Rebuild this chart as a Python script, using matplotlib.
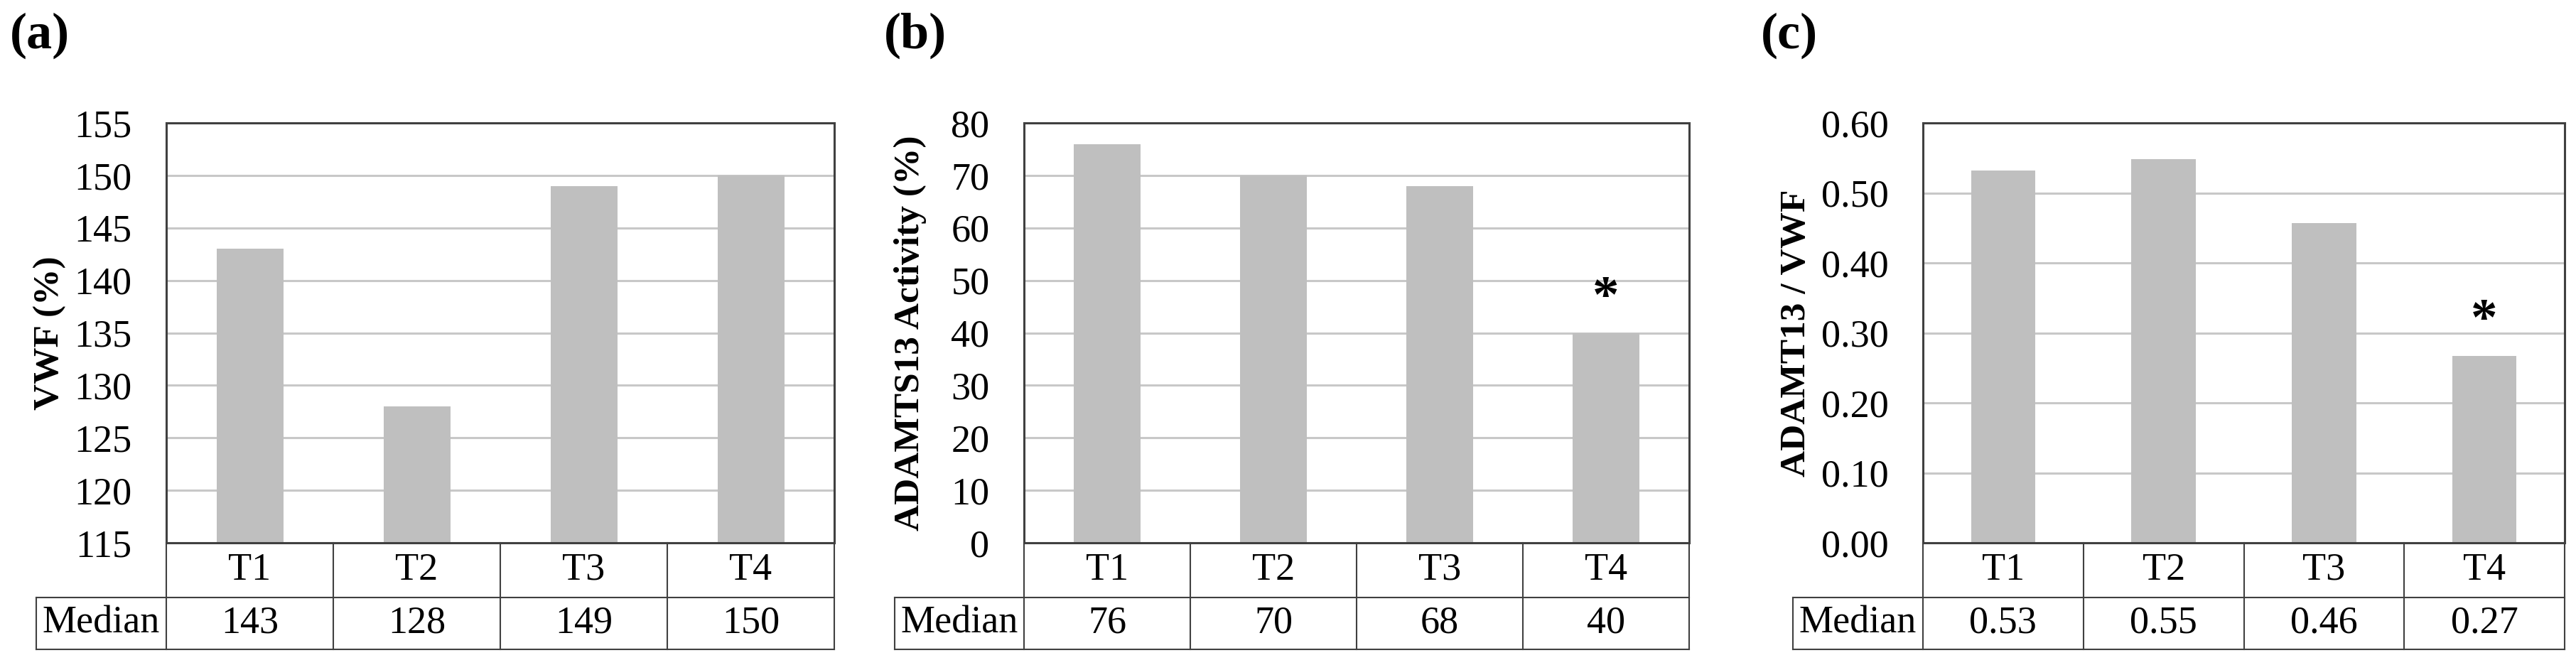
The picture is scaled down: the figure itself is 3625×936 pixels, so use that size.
# Three panels: VWF, ADAMTS13 activity and their ratio at T1-T4, each with a median table below.

import matplotlib
matplotlib.use('Agg')
import matplotlib.pyplot as plt
import numpy as np

plt.rcParams['font.family'] = ['Liberation Serif', 'DejaVu Serif']

times = ['T1', 'T2', 'T3', 'T4']

vwf = [143, 128, 149, 150]
vwf_median = ['143', '128', '149', '150']

adamts13 = [76, 70, 68, 40]
adamts13_median = ['76', '70', '68', '40']

ratio = [0.532, 0.548, 0.457, 0.267]
ratio_median = ['0.53', '0.55', '0.46', '0.27']

# which bar gets a significance star
star_a = []
star_b = ['T4']
star_c = ['T4']

fig = plt.figure(figsize=(36.25, 9.36), dpi=100)

W, H = 3625.0, 936.0
top, bottom = 173.0, 764.0
row1, row2 = 841.0, 914.0

line_col = '#404040'
grid_col = '#c8c8c8'
bar_col = '#bfbfbf'


def panel(x0, x1, med_x, ylab_x, letter, letter_x, vals, meds, stars,
          ylim, yticks, fmt, ylabel):
    ax = fig.add_axes([x0 / W, 1 - bottom / H, (x1 - x0) / W, (bottom - top) / H])
    ax_h = bottom - top
    x = np.arange(len(times))
    ax.bar(x, vals, width=0.4, color=bar_col, zorder=2)
    ax.set_xlim(-0.5, len(times) - 0.5)
    ax.set_ylim(*ylim)
    ax.set_yticks(yticks)
    ax.set_yticklabels([fmt.format(v) for v in yticks])
    ax.set_xticks([])
    ax.tick_params(axis='y', length=0, pad=35, labelsize=39)
    ax.yaxis.grid(True, color=grid_col, linewidth=2.2, zorder=0)
    ax.set_axisbelow(True)
    for s in ax.spines.values():
        s.set_color(line_col)
        s.set_linewidth(2.2)

    ax.set_ylabel(ylabel, fontsize=37, fontweight='bold', va='center')
    ax.yaxis.set_label_coords((ylab_x - x0) / (x1 - x0), 0.5)

    # significance stars
    for t in stars:
        i = times.index(t)
        ax.annotate('*', (x[i], vals[i]), xytext=(0, 10), textcoords='offset points',
                    ha='center', va='bottom', fontsize=54, fontweight='bold')

    # median table under the axes
    y1 = -(row1 - bottom) / ax_h
    y2 = -(row2 - bottom) / ax_h
    mx = (med_x - x0) / (x1 - x0)
    kw = dict(transform=ax.transAxes, color=line_col, lw=1.5, clip_on=False)
    for k in range(len(times) + 1):
        xx = k / len(times)
        ax.plot([xx, xx], [0, y2], **kw)
    ax.plot([mx, 1], [y1, y1], **kw)
    ax.plot([mx, 1], [y2, y2], **kw)
    ax.plot([mx, mx], [y1, y2], **kw)

    tr = ax.get_xaxis_transform()
    for i, t in enumerate(times):
        ax.text(x[i], y1 / 2, t, transform=tr, ha='center', va='center', fontsize=39)
        ax.text(x[i], (y1 + y2) / 2, meds[i], transform=tr, ha='center', va='center',
                fontsize=39)
    ax.text((mx + 0) / 2, (y1 + y2) / 2, 'Median', transform=ax.transAxes,
            ha='center', va='center', fontsize=39)

    fig.text(letter_x / W, 1 - 50 / H, letter, fontsize=52, fontweight='bold',
             ha='left', va='center')
    return ax


panel(234, 1174, 51, 70, '(a)', 14, vwf, vwf_median, star_a,
      (115, 155), np.arange(115, 156, 5), '{:.0f}', 'VWF (%)')
panel(1441, 2377, 1259, 1281, '(b)', 1244, adamts13, adamts13_median, star_b,
      (0, 80), np.arange(0, 81, 10), '{:.0f}', 'ADAMTS13 Activity (%)')
panel(2706, 3609, 2523, 2528, '(c)', 2478, ratio, ratio_median, star_c,
      (0, 0.6), np.round(np.arange(0, 0.61, 0.1), 2), '{:.2f}', 'ADAMT13 / VWF')

fig.savefig('out.png', dpi=100, facecolor='white')
